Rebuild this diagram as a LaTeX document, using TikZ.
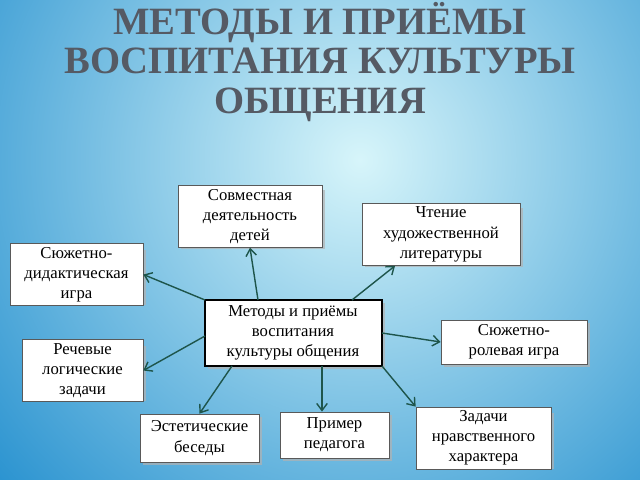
\documentclass[tikz,border=0pt]{standalone}
\usepackage{fontspec}
\setmainfont{Liberation Serif}
\usetikzlibrary{arrows.meta}
\definecolor{skyblue}{RGB}{30,140,205}
\definecolor{skylight}{RGB}{215,245,250}
\definecolor{titlegray}{RGB}{85,90,100}
\definecolor{arrowgreen}{RGB}{30,85,75}
\tikzset{
  box/.style={draw=gray!70!black, fill=white, align=center, inner sep=2pt, font=\fontsize{9.5}{11.5}\selectfont},
  shadowbox/.style={fill=black!30, opacity=0.7},
  link/.style={arrowgreen, thick, -{Straight Barb[length=4pt,width=6pt]}}
}
\begin{document}
\begin{tikzpicture}[x=0.02cm,y=-0.02cm]
\useasboundingbox (0,0) rectangle (640,480);
\begin{scope}
\clip (0,0) rectangle (640,480);
\shade[inner color=skylight, outer color=skyblue] (360,160) circle (520);
\end{scope}
% title
\node[titlegray, align=center, font=\fontsize{22}{22.5}\selectfont\bfseries] (title) at (320,62)
  {МЕТОДЫ И ПРИЁМЫ\\ВОСПИТАНИЯ КУЛЬТУРЫ\\ОБЩЕНИЯ};
% center box
\fill[shadowbox] (208,303) rectangle (385,369);
\draw[black, thick, fill=white] (205,300) rectangle (382,366);
\node[align=center, font=\fontsize{9.5}{11.5}\selectfont] (c) at (293,333) {Методы и приёмы\\воспитания\\культуры общения};
\coordinate (cnw) at (205,300);
\coordinate (cn1) at (258,300);
\coordinate (cn2) at (352,300);
\coordinate (ce) at (382,333);
\coordinate (cw) at (205,336);
\coordinate (cs1) at (232,366);
\coordinate (cs2) at (322,366);
\coordinate (cse) at (382,366);
% outer boxes
\fill[shadowbox] (181,190) rectangle (325,249);
\node[box, minimum width=144*0.02cm, minimum height=59*0.02cm] (sov) at (250,216.5) {Совместная\\деятельность\\детей};
\fill[shadowbox] (365,208) rectangle (523,267);
\node[box, minimum width=158*0.02cm, minimum height=59*0.02cm] (cht) at (441,234.5) {Чтение\\художественной\\литературы};
\fill[shadowbox] (13,250) rectangle (146,305);
\node[box, minimum width=133*0.02cm, minimum height=55*0.02cm] (sdi) at (76.5,274.5) {Сюжетно-\\дидактическая\\игра};
\fill[shadowbox] (444,323) rectangle (590,367);
\node[box, minimum width=146*0.02cm, minimum height=44*0.02cm] (sri) at (514,342) {Сюжетно-\\ролевая игра};
\fill[shadowbox] (25,346) rectangle (146,401);
\node[box, minimum width=121*0.02cm, minimum height=55*0.02cm] (rlz) at (82.5,370.5) {Речевые\\логические\\задачи};
\fill[shadowbox] (143,417) rectangle (262,465);
\node[box, minimum width=119*0.02cm, minimum height=48*0.02cm] (est) at (199.5,438) {Эстетические\\беседы};
\fill[shadowbox] (283,415) rectangle (392,461);
\node[box, minimum width=109*0.02cm, minimum height=46*0.02cm] (ped) at (334.5,435) {Пример\\педагога};
\fill[shadowbox] (419,413) rectangle (554,469);
\node[box, minimum width=135*0.02cm, minimum height=56*0.02cm] (zad) at (483.5,438) {Задачи\\нравственного\\характера};
% links
\draw[link] (cnw) -- (sdi.east);
\draw[link] (cn1) -- (sov.south);
\draw[link] (cn2) -- (cht.south west -| 395,0);
\draw[link] (ce) -- (sri.west);
\draw[link] (cw) -- (rlz.east);
\draw[link] (cs1) -- (est.north);
\draw[link] (cs2) -- (cs2 |- ped.north);
\draw[link] (cse) -- (zad.north west);
\end{tikzpicture}
\end{document}
